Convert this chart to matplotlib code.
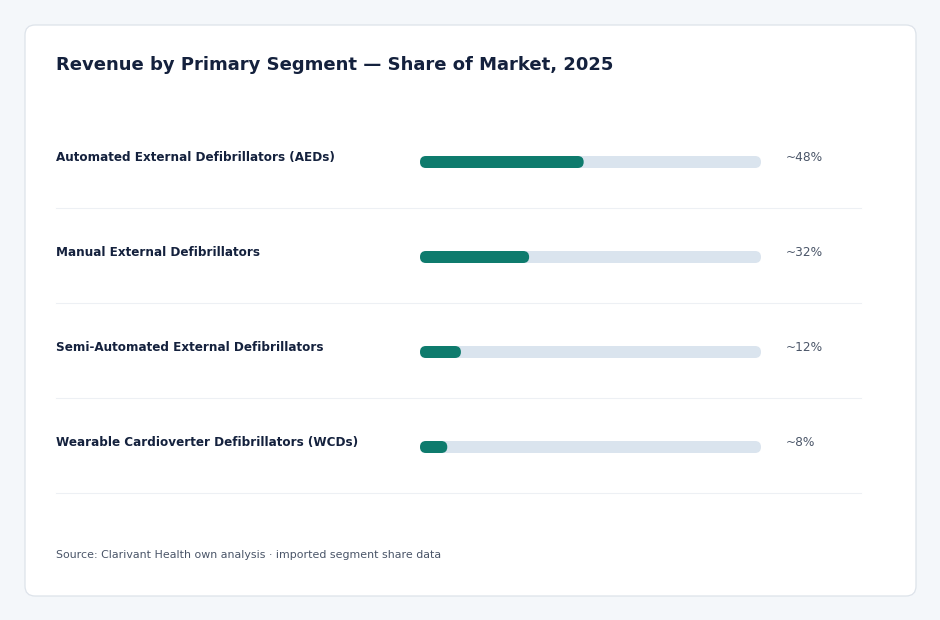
import matplotlib
import matplotlib.pyplot as plt
from matplotlib.patches import FancyBboxPatch
from matplotlib.lines import Line2D
from matplotlib.transforms import blended_transform_factory
matplotlib.use('Agg')

TITLE = 'Revenue by Primary Segment \u2014 Share of Market, 2025'
SOURCE = 'Source: Clarivant Health own analysis \u00b7 imported segment share data'
SEGMENTS = [
    'Automated External Defibrillators (AEDs)',
    'Manual External Defibrillators',
    'Semi-Automated External Defibrillators',
    'Wearable Cardioverter Defibrillators (WCDs)',
]
SHARES = [48, 32, 12, 8]
SHARE_LABELS = ['~48%', '~32%', '~12%', '~8%']

W, H = 940, 620
BG = '#f4f7fa'
CARD_EDGE = '#dde3ea'
FILL = '#0e7b6d'
TRACK = '#dae4ee'
NAVY = '#14213d'
GREY = '#4a5568'
SEP = '#edf0f4'

fig = plt.figure(figsize=(W / 100, H / 100), dpi=100, facecolor=BG)

# background axes in pixel coords for the card
bg = fig.add_axes([0, 0, 1, 1], zorder=0)
bg.set_xlim(0, W)
bg.set_ylim(H, 0)
bg.axis('off')
bg.add_patch(FancyBboxPatch((25, 25), 891, 571, boxstyle='round,pad=0,rounding_size=10',
                            facecolor='white', edgecolor=CARD_EDGE, linewidth=0.9))
bg.text(56, 65, TITLE, fontsize=13, fontweight='bold', color=NAVY, ha='left', va='center')
bg.text(56, 555, SOURCE, fontsize=7.9, color=GREY, ha='left', va='center')

# bar axes: x 0-100 over track pixels, one unit per row
x0, x1 = 420, 761
row0, step = 162, 95
n = len(SEGMENTS)
top_px = row0 - step / 2
bot_px = row0 + step * (n - 0.5)
ax = fig.add_axes([x0 / W, 1 - bot_px / H, (x1 - x0) / W, (bot_px - top_px) / H], zorder=1)
ax.set_xlim(0, 100)
ax.set_ylim(n - 0.5, -0.5)
ax.axis('off')

bar_h = 12 / step
aspect = (1 / step) / (100 / (x1 - x0))
rad = 6 * 100 / (x1 - x0)
for i, (name, v, lab) in enumerate(zip(SEGMENTS, SHARES, SHARE_LABELS)):
    ax.add_patch(FancyBboxPatch((0, i - bar_h / 2), 100, bar_h,
                                boxstyle=f'round,pad=0,rounding_size={rad}', mutation_aspect=aspect,
                                facecolor=TRACK, edgecolor='none', clip_on=False))
    ax.add_patch(FancyBboxPatch((0, i - bar_h / 2), v, bar_h,
                                boxstyle=f'round,pad=0,rounding_size={rad}', mutation_aspect=aspect,
                                facecolor=FILL, edgecolor='none', clip_on=False))
    ax.annotate(name, xy=(56 / W, i), xycoords=('figure fraction', 'data'),
                xytext=(0, 3.2), textcoords='offset points', ha='left', va='center',
                fontsize=8.65, fontweight='bold', color=NAVY)
    ax.annotate(lab, xy=(1, i), xycoords=('axes fraction', 'data'),
                xytext=(17.5, 3.2), textcoords='offset points', ha='left', va='center',
                fontsize=8.7, color=GREY)
    tr = blended_transform_factory(fig.transFigure, ax.transData)
    ax.add_line(Line2D([56 / W, 861 / W], [i + 0.485, i + 0.485], transform=tr,
                       color=SEP, linewidth=0.8, clip_on=False))

fig.savefig('out.png', dpi=100, facecolor=BG)
